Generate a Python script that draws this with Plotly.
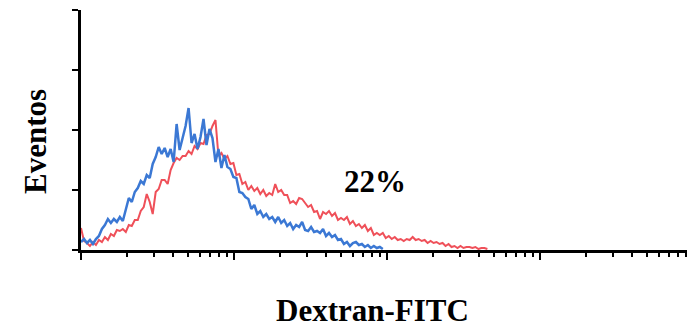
import plotly.graph_objects as go

# Histogram bins (channel numbers on a 1024-channel, 4-decade log scale)
blue_channels = list(range(0, 510, 5))
red_channels = list(range(0, 685, 5))

# Event counts per bin
blue_counts = [8, 11, 7, 10, 6, 11, 14, 21, 25, 31,
               27, 31, 28, 33, 29, 42, 52, 48, 58, 62,
               69, 66, 75, 72, 86, 93, 103, 96, 102, 93,
               101, 88, 126, 100, 111, 124, 142, 107, 116, 101,
               113, 131, 105, 121, 112, 88, 101, 82, 95, 83,
               81, 73, 72, 58, 57, 53, 51, 41, 45, 36,
               39, 33, 36, 31, 33, 28, 33, 27, 30, 24,
               27, 21, 25, 23, 28, 20, 19, 23, 18, 19,
               17, 21, 14, 17, 13, 15, 10, 11, 6, 8,
               4, 7, 8, 5, 6, 3, 5, 2, 4, 2,
               3, 1]

red_counts = [22, 9, 7, 4, 8, 5, 10, 8, 13, 10,
              16, 14, 20, 19, 21, 18, 25, 24, 30, 30,
              39, 43, 56, 48, 36, 58, 61, 70, 70, 66,
              80, 87, 92, 90, 94, 94, 99, 96, 104, 101,
              107, 106, 115, 116, 124, 130, 94, 97, 91, 94,
              86, 87, 75, 76, 66, 68, 60, 64, 59, 62,
              56, 60, 54, 57, 55, 66, 58, 60, 55, 55,
              47, 49, 46, 52, 51, 47, 43, 45, 38, 39,
              31, 38, 36, 39, 34, 37, 30, 32, 30, 33,
              26, 29, 24, 26, 22, 25, 19, 22, 15, 17,
              15, 17, 12, 14, 11, 13, 10, 11, 9, 11,
              10, 13, 10, 11, 9, 10, 7, 9, 7, 8,
              6, 7, 4, 6, 3, 4, 2, 4, 2, 3,
              3, 2, 3, 1, 2, 2, 1]

# channel -> fluorescence intensity (4 decades over 1024 channels)
blue_x = [10 ** (c / 256) for c in blue_channels]
red_x = [10 ** (c / 256) for c in red_channels]

x_title = "Dextran-FITC"
y_title = "Eventos"
pct_label = "22%"

BLUE = "#3b78d4"
RED = "#ef5059"
FONT = "Liberation Serif, Times New Roman, serif"

fig = go.Figure()
fig.add_trace(go.Scatter(x=red_x, y=red_counts, mode="lines",
                         line=dict(color=RED, width=2), showlegend=False))
fig.add_trace(go.Scatter(x=blue_x, y=blue_counts, mode="lines",
                         line=dict(color=BLUE, width=2.5), showlegend=False))

fig.update_layout(
    width=687, height=331,
    margin=dict(l=81, r=0, t=10, b=81),
    paper_bgcolor="white", plot_bgcolor="white",
    font=dict(family=FONT, color="black"),
    xaxis=dict(type="log", range=[0, 3.961], showgrid=False, zeroline=False,
               showline=True, linecolor="black", linewidth=2.5,
               ticks="outside", ticklen=7, tickwidth=2, tickcolor="black",
               dtick=1, showticklabels=False,
               minor=dict(ticks="outside", ticklen=4, tickwidth=1.5,
                          tickcolor="black", dtick="D1", showgrid=False)),
    yaxis=dict(range=[0, 240], showgrid=False, zeroline=False,
               showline=True, linecolor="black", linewidth=2.5,
               ticks="outside", ticklen=6, tickwidth=2, tickcolor="black",
               dtick=60, showticklabels=False),
)

fig.add_annotation(text="<b>%s</b>" % y_title, xref="paper", yref="paper",
                   x=(35 - 81) / 606, y=0.45, xanchor="center", yanchor="middle",
                   textangle=-90, showarrow=False,
                   font=dict(family=FONT, size=31, color="black"))
fig.add_annotation(text="<b>%s</b>" % x_title, xref="paper", yref="paper",
                   x=(372 - 81) / 606, y=-0.254, xanchor="center", yanchor="middle",
                   showarrow=False, font=dict(family=FONT, size=31, color="black"))
fig.add_annotation(text="<b>%s</b>" % pct_label, xref="x", yref="y",
                   x=1.922, y=69, xanchor="center", yanchor="middle",
                   showarrow=False, font=dict(family=FONT, size=31, color="black"))

fig.write_html("out.html")
